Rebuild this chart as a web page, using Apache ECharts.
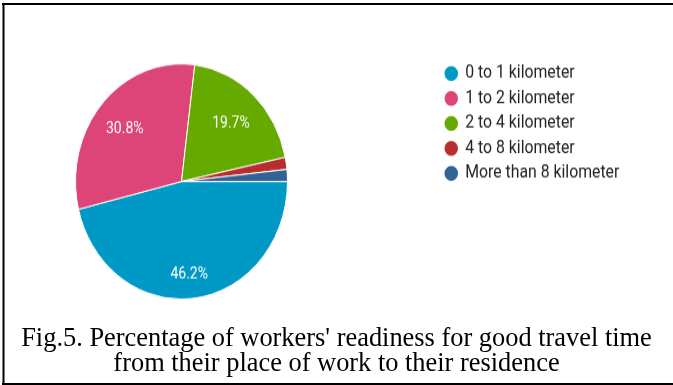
<!DOCTYPE html>
<html>
<head>
<meta charset="utf-8">
<script src="https://cdn.jsdelivr.net/npm/echarts@6/dist/echarts.min.js"></script>
<style>
  html, body { margin: 0; padding: 0; background: #ffffff; }
  #wrap { position: relative; width: 673px; height: 385px; overflow: hidden; background: #fff; }
  #pie { position: absolute; left: 0; top: 0; width: 673px; height: 347px; transform-origin: 0 0; transform: scaleY(1.1095); }
  #cap { position: absolute; left: 0; top: 0; width: 673px; height: 385px; }
</style>
</head>
<body>
<div id="wrap">
  <div id="pie"></div>
  <div id="cap"></div>
</div>
<script>
// ---- data ----
const categories = ['0 to 1 kilometer', '1 to 2 kilometer', '2 to 4 kilometer', '4 to 8 kilometer', 'More than 8 kilometer'];
const shares = [46.2, 30.8, 19.7, 1.65, 1.65];
const labelVisible = [true, true, true, false, false];
const captionLines = [
  "Fig.5. Percentage of workers' readiness for good travel time",
  "from their place of work to their residence"
];

// ---- styles ----
const colors = ['#0099c6', '#dd4477', '#66aa00', '#b82e2e', '#316395'];
const labelOffsets = [[1, 28], [-15, -9.5], [11.5, -11.3], [0, 0], [0, 0]];

const pieChart = echarts.init(document.getElementById('pie'), null, { renderer: 'canvas' });
pieChart.setOption({
  animation: false,
  color: colors,
  legend: {
    orient: 'vertical',
    left: 442.5,
    top: 57.5,
    padding: 0,
    icon: 'circle',
    itemWidth: 18,
    itemHeight: 15.5,
    itemGap: 5,
    textStyle: { fontFamily: 'Roboto', fontSize: 15.8, color: '#222', lineHeight: 16, padding: [0, 0, 0, 0] },
    data: categories
  },
  series: [{
    type: 'pie',
    center: [181.5, 163.6],
    radius: [0, 106],
    startAngle: 0,
    clockwise: true,
    avoidLabelOverlap: false,
    itemStyle: { borderColor: '#ffffff', borderWidth: 1 },
    label: {
      position: 'inner',
      color: '#ffffff',
      fontFamily: 'Roboto',
      fontSize: 14,
      formatter: p => p.value.toFixed(1) + '%'
    },
    labelLine: { show: false },
    labelLayout: function (params) {
      const o = labelOffsets[params.dataIndex];
      return { dx: o[0], dy: o[1] };
    },
    emphasis: { disabled: true },
    data: categories.map((c, i) => ({ name: c, value: shares[i], label: { show: labelVisible[i] } }))
  }]
});

const capChart = echarts.init(document.getElementById('cap'), null, { renderer: 'canvas' });
capChart.setOption({
  animation: false,
  graphic: [
    { type: 'line', shape: { x1: 2, y1: 4, x2: 673, y2: 4 }, style: { stroke: '#000', lineWidth: 2 } },
    { type: 'line', shape: { x1: 3.5, y1: 3, x2: 3.5, y2: 385 }, style: { stroke: '#000', lineWidth: 2 } },
    { type: 'line', shape: { x1: 2, y1: 384, x2: 673, y2: 384 }, style: { stroke: '#000', lineWidth: 2 } },
    { type: 'text', x: 336.5, y: 339.5, style: { text: captionLines[0], fontFamily: 'Liberation Serif', fontSize: 26.4, fill: '#000', align: 'center', verticalAlign: 'middle' } },
    { type: 'text', x: 336.5, y: 364, style: { text: captionLines[1], fontFamily: 'Liberation Serif', fontSize: 26.4, fill: '#000', align: 'center', verticalAlign: 'middle' } }
  ]
});
</script>
</body>
</html>
